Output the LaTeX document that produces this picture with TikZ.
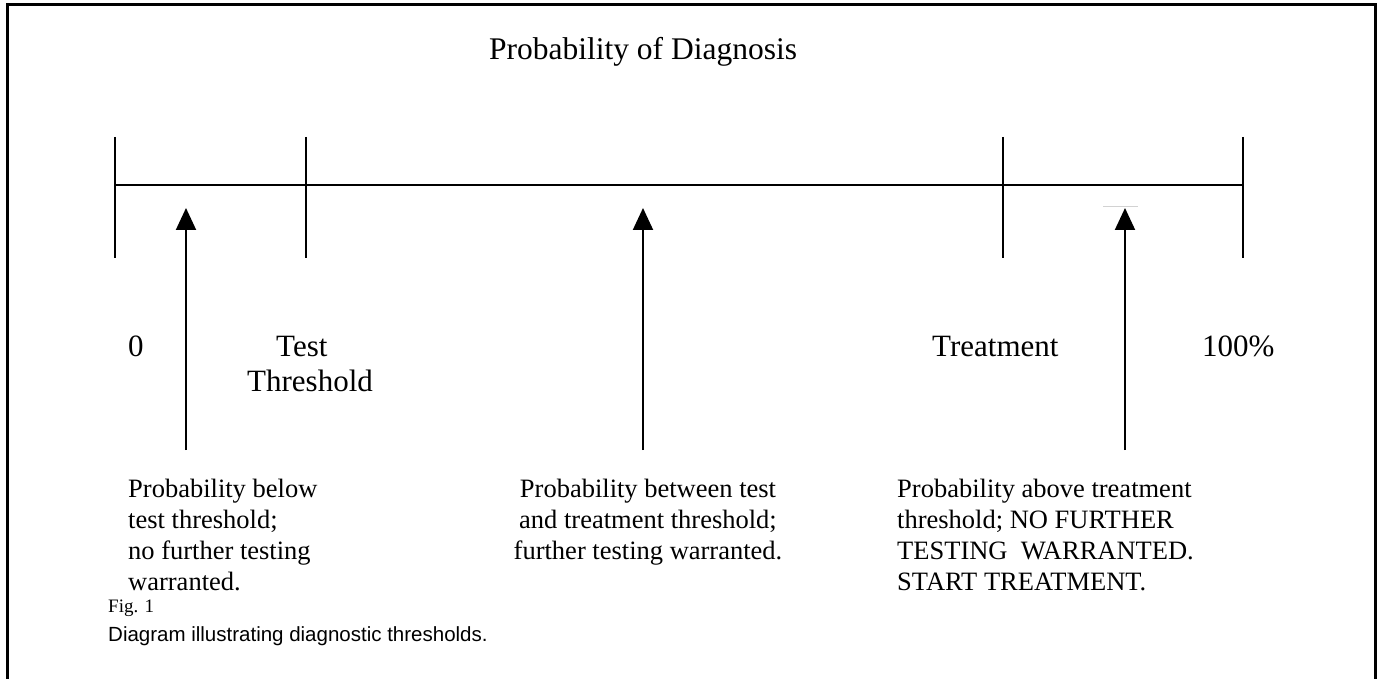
\documentclass[tikz,border=0pt]{standalone}
\usepackage{fontspec}
\setmainfont{Liberation Serif}
\newfontfamily\capsans{Liberation Sans}
\usetikzlibrary{arrows.meta}
\begin{document}
\begin{tikzpicture}[x=1pt,y=-1pt,
  frame/.style={line width=3pt},
  axis/.style={line width=2pt},
  upar/.style={line width=2pt,-{Triangle[width=20pt,length=22pt]}},
  ttl/.style={inner sep=0pt,anchor=base,font=\fontsize{31.5}{36}\selectfont},
  lbl/.style={inner sep=0pt,anchor=base west,font=\fontsize{31}{36}\selectfont},
  body/.style={inner sep=0pt,anchor=base west,font=\fontsize{26.5}{31}\selectfont},
  bodyc/.style={body,anchor=base},
  figtxt/.style={inner sep=0pt,anchor=base west,font=\fontsize{19}{22}\selectfont},
  captxt/.style={inner sep=0pt,anchor=base west,font=\capsans\fontsize{20.5}{24}\selectfont}]
\useasboundingbox (0,0) rectangle (1377,679);
\fill[white] (0,0) rectangle (1377,679);
% frame
\coordinate (fbl) at (7,679);
\coordinate (ftl) at (7,5);
\coordinate (ftr) at (1375,5);
\coordinate (fbr) at (1375,679);
\draw[frame] (fbl) -- (ftl) -- (ftr) -- (fbr);
% title
\node[ttl] (title) at (643,60) {Probability of Diagnosis};
% axis
\coordinate (a0) at (115,185);
\coordinate (a1) at (306,185);
\coordinate (a2) at (1003,185);
\coordinate (a3) at (1243,185);
\draw[axis] (a0) -- (a3);
\foreach \t in {a0,a1,a2,a3}{
  \draw[axis] ([yshift=48pt]\t) -- ([yshift=-73pt]\t);
}
% arrows
\coordinate (p1) at (186,450);
\coordinate (q1) at (186,208);
\coordinate (p2) at (643,450);
\coordinate (q2) at (643,208);
\coordinate (p3) at (1125,450);
\coordinate (q3) at (1125,208);
\draw[upar] (p1) -- (q1);
\draw[upar] (p2) -- (q2);
\draw[upar] (p3) -- (q3);
\coordinate (g1) at (1103,207);
\coordinate (g2) at (1138,207);
\draw[gray!35,line width=1pt] (g1) -- (g2);
% labels
\node[lbl] (l0) at (128,356) {0};
\node[lbl] (ltest) at (276,356) {Test};
\node[lbl] (lthr) at (247,391) {Threshold};
\node[lbl] (ltreat) at (932,356) {Treatment};
\node[lbl] (l100) at (1202,356) {100\%};
% left text
\node[body] (b1a) at (128,497) {Probability below};
\node[body] (b1b) at (128,528) {test threshold;};
\node[body] (b1c) at (128,559) {no further testing};
\node[body] (b1d) at (128,590) {warranted.};
% middle text
\node[bodyc] (b2a) at (648,497) {Probability between test};
\node[bodyc] (b2b) at (648,528) {and treatment threshold;};
\node[bodyc] (b2c) at (648,559) {further testing warranted.};
% right text
\node[body] (b3a) at (897,497) {Probability above treatment};
\node[body] (b3b) at (897,528) {threshold; NO FURTHER};
\node[body] (b3c) at (897,559) {TESTING\ \ WARRANTED.};
\node[body] (b3d) at (897,590) {START TREATMENT.};
% caption
\node[figtxt] (figl) at (108,612) {Fig. 1};
\node[captxt] (capt) at (108,641) {Diagram illustrating diagnostic thresholds.};
\end{tikzpicture}
\end{document}
